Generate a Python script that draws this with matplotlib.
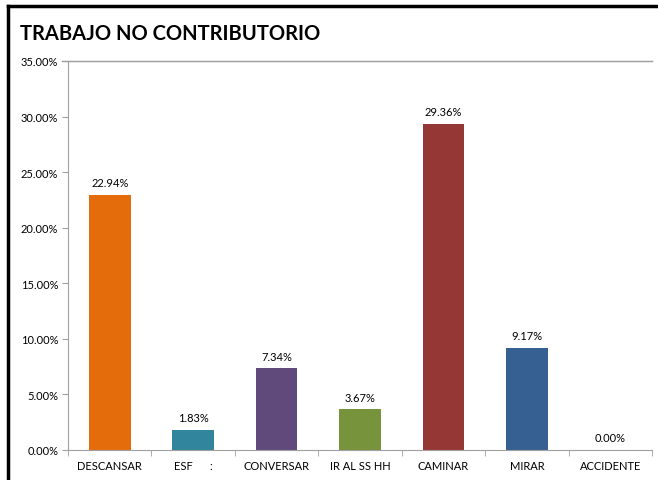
import matplotlib
matplotlib.use("Agg")
import matplotlib.pyplot as plt
from matplotlib.lines import Line2D

categories = ["DESCANSAR", "ESF      :", "CONVERSAR", "IR AL SS HH", "CAMINAR", "MIRAR", "ACCIDENTE"]
values = [22.94, 1.83, 7.34, 3.67, 29.36, 9.17, 0.00]
colors = ["#E46C0A", "#31859C", "#604A7B", "#77933C", "#953735", "#376092", "#4F81BD"]
yticks = [0, 5, 10, 15, 20, 25, 30, 35]

plt.rcParams['font.family'] = ['Lato', 'DejaVu Sans']

fig = plt.figure(figsize=(6.58, 4.81), dpi=100)
W, H = 658, 481
ax = fig.add_axes([68 / W, 1 - 451 / H, (652 - 68) / W, (451 - 62) / H])

x = list(range(len(categories)))
ax.bar(x, values, width=0.5, color=colors)
for xi, v in zip(x, values):
    ax.text(xi, v + 0.6, f"{v:.2f}%", ha="center", va="bottom", fontsize=8)

ax.set_xlim(-0.5, len(categories) - 0.5)
ax.set_ylim(0, 35)
ax.set_yticks(yticks)
ax.set_yticklabels([f"{t:.2f}%" for t in yticks], fontsize=8)
ax.set_xticks(x)
ax.set_xticklabels(categories, fontsize=8)
ax.tick_params(axis="x", length=0, pad=7)
ax.tick_params(axis="y", length=4, color="#A0A0A0", pad=3)
ax.set_xticks([i - 0.5 for i in range(len(categories) + 1)], minor=True)
ax.tick_params(axis="x", which="minor", length=4, color="#A0A0A0")

ax.spines["right"].set_visible(False)
ax.spines["top"].set_color("#A0A0A0")
ax.spines["left"].set_color("#A0A0A0")
ax.spines["bottom"].set_color("#A0A0A0")
ax.axhline(35, color="#A0A0A0", lw=1, xmin=-0.01, clip_on=False)

fig.text(20 / W, 1 - 34 / H, "TRABAJO NO CONTRIBUTORIO", fontsize=14.5, fontweight="bold", va="center", ha="left")

fig.add_artist(Line2D([8 / W, 8 / W], [1 - 7 / H, 0], color="black", lw=2.5, transform=fig.transFigure))
fig.add_artist(Line2D([8 / W, 1], [1 - 7 / H, 1 - 7 / H], color="black", lw=2.5, transform=fig.transFigure))

fig.savefig("out.png", dpi=100)
